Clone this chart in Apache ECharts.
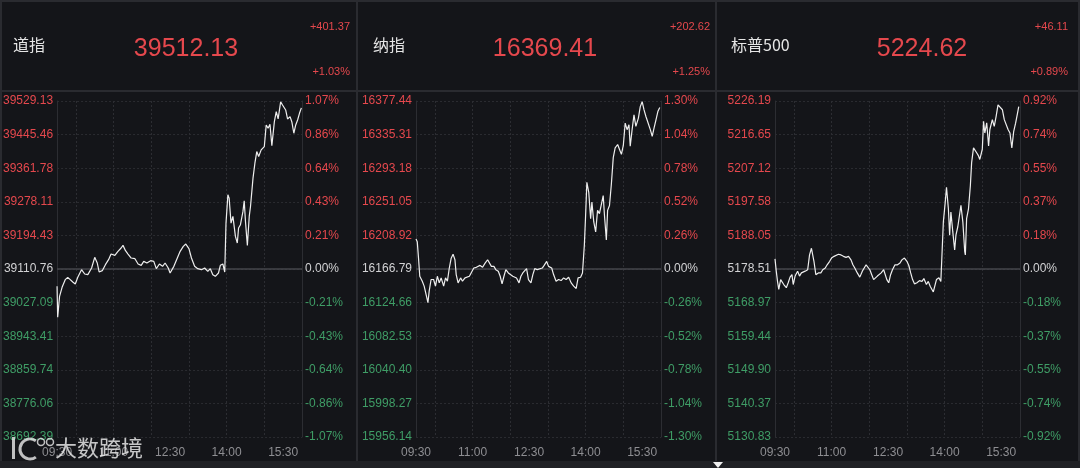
<!DOCTYPE html>
<html><head><meta charset="utf-8">
<script src="https://cdn.jsdelivr.net/npm/echarts@6/dist/echarts.min.js"></script>
<style>html,body{margin:0;padding:0;background:#141519;}#c{width:1080px;height:468px;}</style>
</head><body><div id="c"></div>
<script>
const names = ['道指', '纳指', '标普500'];
const lastPrices = ['39512.13', '16369.41', '5224.62'];
const changes = ['+401.37', '+202.62', '+46.11'];
const changePcts = ['+1.03%', '+1.25%', '+0.89%'];
const timeLabels = ['09:30', '11:00', '12:30', '14:00', '15:30'];
const prevClose = [39110.76, 16166.79, 5178.51];
const priceSteps = [83.674, 42.13, 9.536];

const djPriceTicks = ['39529.13','39445.46','39361.78','39278.11','39194.43','39110.76','39027.09','38943.41','38859.74','38776.06','38692.39'];
const djPctTicks = ['1.07%','0.86%','0.64%','0.43%','0.21%','0.00%','-0.21%','-0.43%','-0.64%','-0.86%','-1.07%'];
const ndPriceTicks = ['16377.44','16335.31','16293.18','16251.05','16208.92','16166.79','16124.66','16082.53','16040.40','15998.27','15956.14'];
const ndPctTicks = ['1.30%','1.04%','0.78%','0.52%','0.26%','0.00%','-0.26%','-0.52%','-0.78%','-1.04%','-1.30%'];
const spPriceTicks = ['5226.19','5216.65','5207.12','5197.58','5188.05','5178.51','5168.97','5159.44','5149.90','5140.37','5130.83'];
const spPctTicks = ['0.92%','0.74%','0.55%','0.37%','0.18%','0.00%','-0.18%','-0.37%','-0.55%','-0.74%','-0.92%'];

// minutes since 09:30
const djTimes = [0,1,4,8,13,17,21,25,29,33,39,44,49,55,60,64,67,72,77,82,86,92,97,102,105,109,113,118,124,129,134,138,143,149,154,158,163,168,172,177,180,186,191,196,201,205,210,214,219,224,230,235,240,244,248,252,257,260,264,267,269,272,274,277,280,284,287,289,292,296,298,300,303,306,308,312,315,318,321,325,330,333,336,339,342,346,349,352,356,359,364,367,371,374,377,380,383,386,389];
const djValues = [39067.7,38990.6,39042.8,39065.2,39084.2,39090.0,39084.2,39078.4,39073.5,39090.0,39109.1,39098.3,39096.7,39113.2,39139.8,39125.7,39103.3,39106.6,39121.5,39134.0,39148.0,39144.7,39154.7,39163.0,39169.6,39156.3,39148.0,39138.1,39136.4,39123.2,39119.9,39129.8,39125.7,39131.5,39129.8,39111.6,39123.2,39117.4,39125.7,39113.2,39100.8,39117.4,39136.4,39154.7,39167.1,39172.9,39161.3,39138.1,39117.4,39111.6,39109.1,39113.2,39105.0,39111.6,39096.7,39092.5,39100.8,39119.9,39123.2,39103.3,39225.1,39295.5,39287.2,39225.1,39241.7,39191.9,39175.4,39212.7,39221.0,39254.1,39280.6,39229.2,39169.6,39241.7,39266.5,39337.0,39374.2,39403.2,39390.8,39407.4,39415.7,39469.5,39461.2,39471.2,39418.1,39477.8,39502.6,39484.4,39527.0,39519.2,39506.8,39484.4,39490.2,39476.1,39448.8,39469.5,39481.9,39498.5,39512.1];

const ndTimes = [0,2,4,6,10,13,16,19,21,24,28,31,34,37,40,44,47,50,53,56,59,62,64,67,71,74,78,81,85,88,92,96,99,102,106,110,114,117,120,124,127,131,134,137,140,143,147,150,154,157,160,164,167,170,173,176,179,183,186,189,193,196,201,204,208,211,216,219,223,227,231,235,239,243,247,251,255,258,262,265,268,270,272,275,278,280,283,286,289,292,295,298,300,303,305,308,311,314,317,321,324,327,330,333,336,339,341,344,347,350,354,357,360,363,366,369,373,376,379,382,385,388];
const ndValues = [16204.4,16201.1,16180.4,16157.7,16151.5,16145.3,16135.0,16124.7,16139.1,16153.6,16153.6,16145.3,16157.7,16149.4,16155.6,16145.3,16155.6,16151.5,16168.0,16180.4,16185.4,16178.4,16159.8,16149.4,16155.6,16151.5,16155.6,16153.6,16157.7,16155.6,16168.0,16168.9,16167.2,16171.3,16168.9,16174.2,16178.4,16178.4,16170.1,16170.1,16166.0,16163.9,16157.7,16148.2,16157.7,16166.0,16161.8,16163.9,16157.7,16159.8,16155.6,16149.4,16157.7,16161.8,16159.8,16167.2,16153.6,16149.4,16159.8,16167.2,16166.0,16168.0,16168.0,16171.3,16176.3,16170.1,16168.0,16159.8,16151.5,16153.6,16152.3,16155.6,16153.6,16156.5,16149.4,16145.3,16142.4,16155.6,16156.5,16161.8,16196.9,16234.1,16275.4,16263.0,16230.0,16250.6,16225.8,16213.4,16240.3,16236.2,16236.2,16258.9,16234.1,16203.1,16240.3,16246.5,16273.3,16306.4,16318.8,16322.9,16316.7,16310.5,16321.7,16349.8,16341.5,16347.7,16320.8,16341.5,16360.1,16345.6,16356.0,16370.4,16376.6,16366.3,16358.0,16356.0,16341.5,16333.2,16343.6,16353.9,16364.2,16369.4];

const spTimes = [0,2,4,6,9,12,14,18,21,24,27,29,32,36,39,42,45,48,52,55,58,60,62,65,69,73,76,80,83,87,90,94,97,101,105,109,113,117,121,124,127,131,135,139,142,145,148,151,154,157,160,163,166,169,173,175,178,181,184,187,191,195,199,202,206,210,213,216,219,222,226,230,234,237,241,244,247,250,252,254,257,261,264,266,268,271,273,276,278,280,283,286,288,291,294,296,299,302,303,305,308,311,313,316,319,321,324,326,330,332,334,337,340,342,346,349,352,355,358,362,365,368,371,374,377,380,383,386,388];
const spValues = [5181.4,5177.9,5175.0,5172.7,5175.5,5175.0,5174.1,5173.2,5174.6,5176.2,5176.9,5174.1,5176.5,5177.9,5176.5,5177.4,5176.9,5177.9,5178.3,5182.5,5184.4,5183.9,5180.7,5176.9,5177.4,5177.4,5178.3,5178.8,5179.7,5180.7,5181.6,5182.1,5181.8,5182.7,5182.5,5182.1,5181.8,5182.1,5181.1,5179.7,5178.8,5177.4,5176.2,5177.9,5178.8,5179.7,5179.3,5178.3,5176.9,5175.5,5175.5,5176.5,5176.9,5177.4,5178.3,5178.8,5175.5,5174.6,5176.9,5178.3,5179.7,5179.7,5180.2,5181.1,5181.6,5180.7,5179.5,5177.4,5175.5,5174.3,5174.6,5175.2,5175.0,5175.8,5174.1,5175.0,5173.6,5173.2,5172.0,5172.4,5175.5,5176.0,5175.0,5175.0,5191.9,5197.5,5201.7,5195.6,5188.1,5194.7,5189.1,5183.9,5188.1,5190.5,5190.0,5196.6,5191.9,5183.5,5182.5,5192.8,5195.6,5202.2,5208.7,5212.9,5212.5,5211.5,5210.6,5209.6,5212.5,5220.4,5217.1,5220.0,5213.4,5218.1,5220.9,5219.0,5221.8,5225.1,5225.1,5223.7,5220.9,5221.3,5218.1,5217.1,5212.9,5217.6,5219.9,5222.7,5224.6];

const RED = '#e5484d', GREEN = '#3f9d66', GRAY0 = '#d2d2d4';
const panels = [
  {times: djTimes, values: djValues, price: djPriceTicks, pct: djPctTicks},
  {times: ndTimes, values: ndValues, price: ndPriceTicks, pct: ndPctTicks},
  {times: spTimes, values: spValues, price: spPriceTicks, pct: spPctTicks}
];
const gridLefts = [57, 416, 775];
const panelX = [0, 359, 718];
const nameX = [13, 373, 731];
const priceCX = [186, 545, 922];
const rightX = [350, 710, 1068];
const numFont = '"Liberation Sans", Arial, "Helvetica Neue", sans-serif';
const cjkFont = '"Noto Sans CJK SC", "Liberation Sans", sans-serif';

const grids = [], xAxes = [], yAxes = [], series = [], graphics = [];
function lblColor(v, step) {
  const k = Math.round(parseFloat(v) / step);
  return k > 0 ? RED : (k < 0 ? GREEN : GRAY0);
}
panels.forEach((p, i) => {
  const step = priceSteps[i];
  grids.push({left: gridLefts[i], top: 101, width: 245, height: 336});
  xAxes.push({
    gridIndex: i, type: 'value', min: 0, max: 390, interval: 30,
    axisLine: {show: false}, axisTick: {show: false},
    axisLabel: {
      color: '#8e8e92', fontSize: 12, margin: 10, fontFamily: numFont,
      formatter: v => (Math.round(v) % 90 === 0 ? timeLabels[Math.round(v) / 90] : '')
    },
    splitLine: {show: true, lineStyle: {color: ['rgba(0,0,0,0)', '#2c2d32'], type: [2, 2], width: 1}}
  });
  yAxes.push({
    gridIndex: i, type: 'value', position: 'left',
    min: -5 * step, max: 5 * step, interval: step,
    axisLine: {show: true, lineStyle: {color: '#2c2d32'}}, axisTick: {show: false},
    axisLabel: {
      margin: 4, fontSize: 12, fontFamily: numFont,
      formatter: v => p.price[5 - Math.round(v / step)],
      color: v => lblColor(v, step)
    },
    splitLine: {show: true, lineStyle: {color: '#2a2b30', type: [2, 2], width: 1}}
  });
  yAxes.push({
    gridIndex: i, type: 'value', position: 'right',
    min: -5 * step, max: 5 * step, interval: step,
    axisLine: {show: true, lineStyle: {color: '#2c2d32'}}, axisTick: {show: false},
    axisLabel: {
      margin: 3, fontSize: 12, fontFamily: numFont,
      formatter: v => p.pct[5 - Math.round(v / step)],
      color: v => lblColor(v, step)
    },
    splitLine: {show: false}
  });
  series.push({
    type: 'line', xAxisIndex: i, yAxisIndex: 2 * i,
    data: p.times.map((t, j) => [t, p.values[j] - prevClose[i]]),
    showSymbol: false, symbol: 'none', clip: false, silent: true,
    lineStyle: {color: '#eeeeee', width: 1.2},
    markLine: {
      silent: true, symbol: ['none', 'none'], label: {show: false},
      lineStyle: {color: '#45464b', type: 'solid', width: 1.5},
      data: [{yAxis: 0}]
    },
    z: 5
  });
  graphics.push(
    {type: 'text', left: nameX[i], top: 37, style: {text: names[i], fill: '#e6e6e6', font: '16px ' + cjkFont}},
    {type: 'text', x: priceCX[i], y: 49, style: {text: lastPrices[i], fill: RED, font: '25px ' + numFont, align: 'center', verticalAlign: 'middle'}},
    {type: 'text', x: rightX[i], y: 27, style: {text: changes[i], fill: RED, font: '11px ' + numFont, align: 'right', verticalAlign: 'middle'}},
    {type: 'text', x: rightX[i], y: 72, style: {text: changePcts[i], fill: RED, font: '11px ' + numFont, align: 'right', verticalAlign: 'middle'}}
  );
});

// frame lines
graphics.push(
  {type: 'rect', shape: {x: 0, y: 461, width: 1080, height: 7}, style: {fill: '#202125'}, z: -1},
  {type: 'line', shape: {x1: 0, y1: 91, x2: 1080, y2: 91}, style: {stroke: '#2a2b30', lineWidth: 2}},
  {type: 'line', shape: {x1: 0, y1: 1, x2: 1080, y2: 1}, style: {stroke: '#2a2b30', lineWidth: 2}},
  {type: 'line', shape: {x1: 357, y1: 0, x2: 357, y2: 461}, style: {stroke: '#2a2b30', lineWidth: 2}},
  {type: 'line', shape: {x1: 716, y1: 0, x2: 716, y2: 461}, style: {stroke: '#2a2b30', lineWidth: 2}},
  {type: 'line', shape: {x1: 1, y1: 0, x2: 1, y2: 461}, style: {stroke: '#2a2b30', lineWidth: 2}},
  {type: 'line', shape: {x1: 1079, y1: 0, x2: 1079, y2: 461}, style: {stroke: '#2a2b30', lineWidth: 2}},
  {type: 'polygon', shape: {points: [[713, 462], [723, 462], [718, 468]]}, style: {fill: '#f0f0f0'}},
  // watermark
  {type: 'rect', shape: {x: 12, y: 437, width: 3, height: 22}, style: {fill: 'rgba(235,235,235,0.8)'}, z: 20},
  {type: 'arc', shape: {cx: 30, cy: 449, r: 10, startAngle: Math.PI * 0.3, endAngle: Math.PI * 1.7}, style: {stroke: 'rgba(235,235,235,0.8)', lineWidth: 3, fill: 'none'}, z: 20},
  {type: 'circle', shape: {cx: 41, cy: 442, r: 3.5}, style: {stroke: 'rgba(235,235,235,0.8)', lineWidth: 1.5, fill: 'none'}, z: 20},
  {type: 'circle', shape: {cx: 50, cy: 442, r: 3.5}, style: {stroke: 'rgba(235,235,235,0.8)', lineWidth: 1.5, fill: 'none'}, z: 20},
  {type: 'text', left: 55, top: 437, style: {text: '大数跨境', fill: 'rgba(238,238,238,0.82)', font: '22px ' + cjkFont}, z: 20}
);

const chart = echarts.init(document.getElementById('c'), null, {renderer: 'canvas'});
chart.setOption({
  backgroundColor: '#141519',
  animation: false,
  grid: grids, xAxis: xAxes, yAxis: yAxes, series: series,
  graphic: graphics
});
</script></body></html>
